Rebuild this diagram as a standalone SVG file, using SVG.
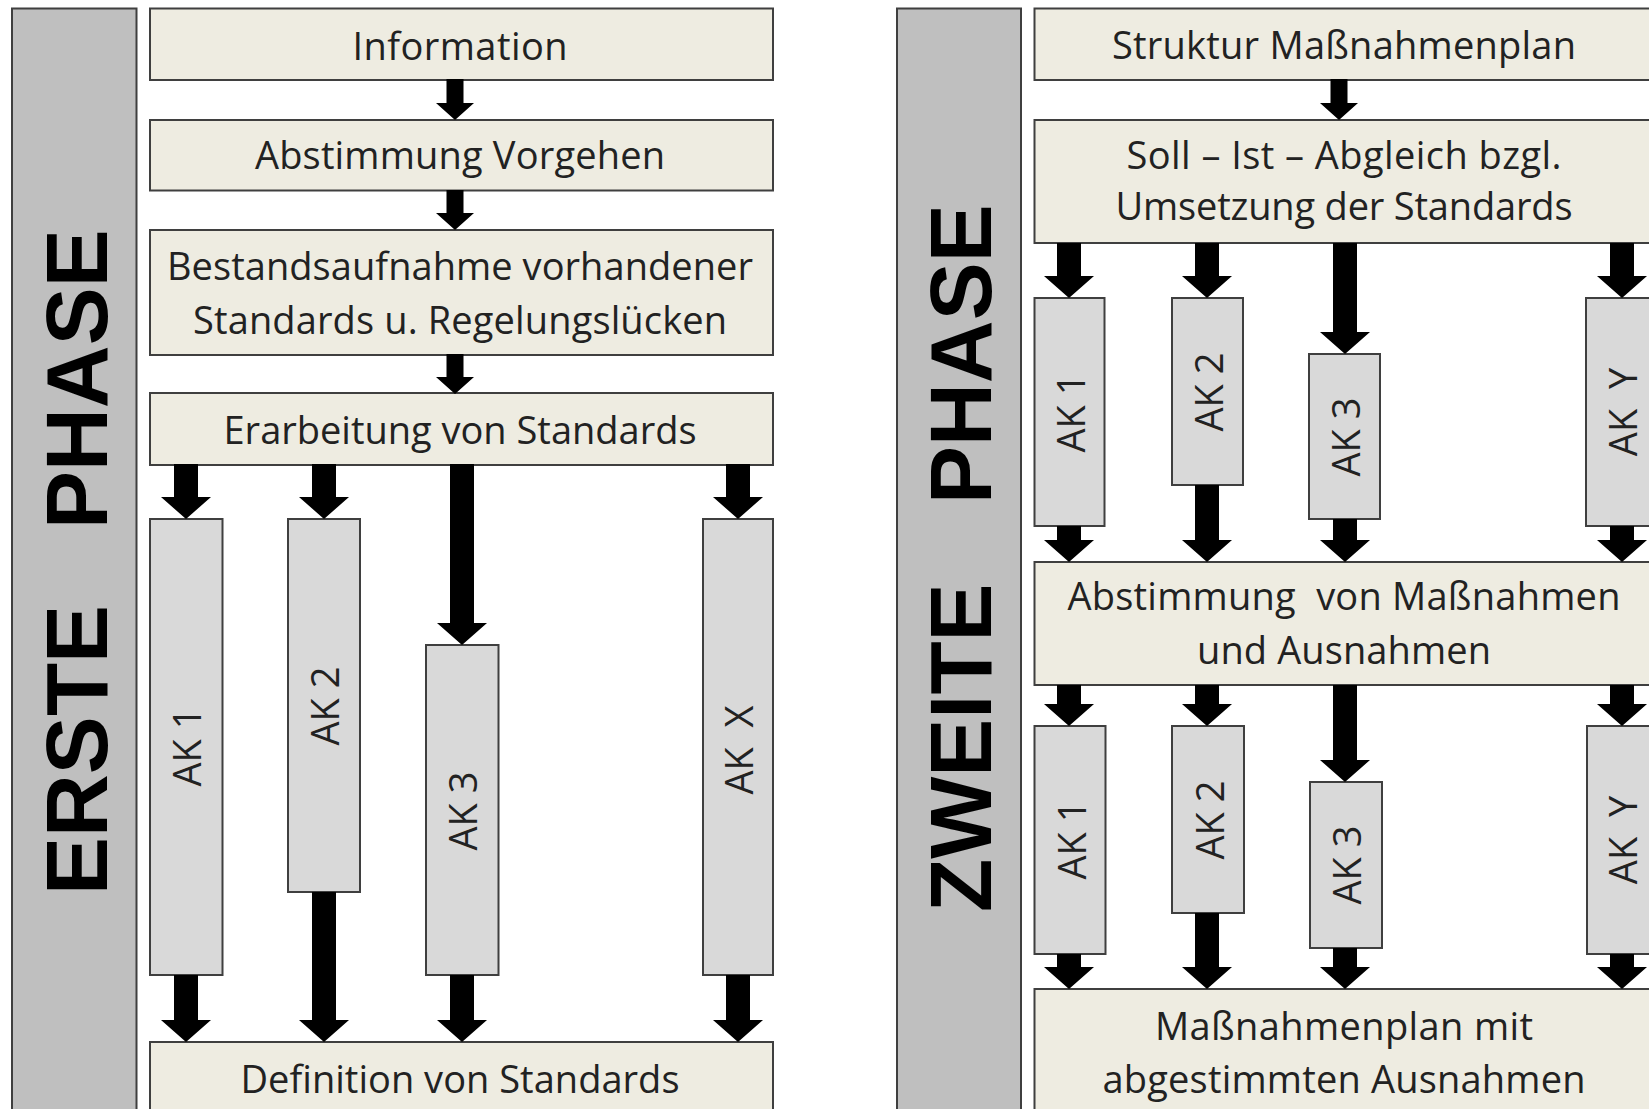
<svg xmlns="http://www.w3.org/2000/svg" width="1649" height="1109" viewBox="0 0 1649 1109">
<style>
  .bar { fill: #bfbfbf; stroke: #3f3f3f; stroke-width: 2; }
  .box { fill: #eeece1; stroke: #3f3f3f; stroke-width: 2; }
  .ak { fill: #d9d9d9; stroke: #3f3f3f; stroke-width: 2; }
  .lbl { font-family: "Open Sans", "Liberation Sans", sans-serif; font-size: 38px; fill: #222222; text-anchor: middle; white-space: pre; }
  .aklbl { font-family: "Open Sans", "Liberation Sans", sans-serif; font-size: 38px; fill: #222222; text-anchor: middle; white-space: pre; }
  .phase { font-family: "Liberation Sans", Arial, sans-serif; font-size: 87px; font-weight: bold; fill: #000; }
  .arr { fill: #000; }
</style>
<rect width="1649" height="1109" fill="#ffffff"/>

<!-- LEFT PANEL -->
<g id="phase1-bar">
  <rect class="bar" x="12" y="8.5" width="124.5" height="1120"/>
  <text class="phase" transform="rotate(-90)" y="107"><tspan x="-895">ERSTE</tspan><tspan x="-529">PHASE</tspan></text>
</g>
<g id="p1-information">
  <rect class="box" x="150" y="8.5" width="623" height="71.5"/>
  <text class="lbl" x="460" y="60" textLength="215">Information</text>
</g>
<g id="p1-abstimmung">
  <rect class="box" x="150" y="120" width="623" height="70.5"/>
  <text class="lbl" x="460" y="169" textLength="410">Abstimmung Vorgehen</text>
</g>
<g id="p1-bestand">
  <rect class="box" x="150" y="230" width="623" height="125"/>
  <text class="lbl" x="460" y="280" textLength="586">Bestandsaufnahme vorhandener</text>
  <text class="lbl" x="460" y="334" textLength="534">Standards u. Regelungslücken</text>
</g>
<g id="p1-erarbeitung">
  <rect class="box" x="150" y="393" width="623" height="72"/>
  <text class="lbl" x="460" y="444" textLength="473">Erarbeitung von Standards</text>
</g>
<g id="p1-ak1">
  <rect class="ak" x="150" y="519" width="72.5" height="456"/>
  <text class="aklbl" transform="rotate(-90)" x="-747" y="201">AK 1</text>
</g>
<g id="p1-ak2">
  <rect class="ak" x="288" y="519" width="72" height="373"/>
  <text class="aklbl" transform="rotate(-90)" x="-706" y="339">AK 2</text>
</g>
<g id="p1-ak3">
  <rect class="ak" x="426" y="645" width="72.5" height="330"/>
  <text class="aklbl" transform="rotate(-90)" x="-811" y="477">AK 3</text>
</g>
<g id="p1-akx">
  <rect class="ak" x="703" y="519" width="70" height="456"/>
  <text class="aklbl" transform="rotate(-90)" x="-750" y="753">AK  X</text>
</g>
<g id="p1-definition">
  <rect class="box" x="150" y="1042" width="623" height="100"/>
  <text class="lbl" x="460" y="1093" textLength="439">Definition von Standards</text>
</g>

<!-- RIGHT PANEL -->
<g id="phase2-bar">
  <rect class="bar" x="897" y="8.5" width="124" height="1120"/>
  <text class="phase" transform="rotate(-90)" y="991"><tspan x="-912">ZWEITE</tspan><tspan x="-504">PHASE</tspan></text>
</g>
<g id="p2-struktur">
  <rect class="box" x="1034.5" y="8.5" width="622" height="71.5"/>
  <text class="lbl" x="1344" y="59" textLength="464">Struktur Maßnahmenplan</text>
</g>
<g id="p2-soll-ist">
  <rect class="box" x="1034.5" y="120" width="622" height="123"/>
  <text class="lbl" x="1344" y="169" textLength="435">Soll – Ist – Abgleich bzgl.</text>
  <text class="lbl" x="1344" y="220" textLength="457">Umsetzung der Standards</text>
</g>
<g id="p2-ak1a">
  <rect class="ak" x="1034.5" y="298" width="70" height="228"/>
  <text class="aklbl" transform="rotate(-90)" x="-413" y="1085">AK 1</text>
</g>
<g id="p2-ak2a">
  <rect class="ak" x="1172" y="298" width="71" height="187"/>
  <text class="aklbl" transform="rotate(-90)" x="-392" y="1223">AK 2</text>
</g>
<g id="p2-ak3a">
  <rect class="ak" x="1309" y="354" width="71" height="165"/>
  <text class="aklbl" transform="rotate(-90)" x="-437" y="1360">AK 3</text>
</g>
<g id="p2-akya">
  <rect class="ak" x="1586" y="298" width="70" height="228"/>
  <text class="aklbl" transform="rotate(-90)" x="-412" y="1637">AK  Y</text>
</g>
<g id="p2-abstimmung">
  <rect class="box" x="1034.5" y="562" width="622" height="123"/>
  <text class="lbl" x="1344" y="610" textLength="553">Abstimmung  von Maßnahmen</text>
  <text class="lbl" x="1344" y="664" textLength="294">und Ausnahmen</text>
</g>
<g id="p2-ak1b">
  <rect class="ak" x="1034.5" y="726" width="71" height="228"/>
  <text class="aklbl" transform="rotate(-90)" x="-840" y="1086">AK 1</text>
</g>
<g id="p2-ak2b">
  <rect class="ak" x="1172" y="726" width="72" height="187"/>
  <text class="aklbl" transform="rotate(-90)" x="-820" y="1224">AK 2</text>
</g>
<g id="p2-ak3b">
  <rect class="ak" x="1310" y="782" width="72" height="166"/>
  <text class="aklbl" transform="rotate(-90)" x="-865" y="1361">AK 3</text>
</g>
<g id="p2-akyb">
  <rect class="ak" x="1587" y="726" width="70" height="228"/>
  <text class="aklbl" transform="rotate(-90)" x="-840" y="1637">AK  Y</text>
</g>
<g id="p2-massnahmenplan">
  <rect class="box" x="1034.5" y="989" width="622" height="140"/>
  <text class="lbl" x="1344" y="1040" textLength="378">Maßnahmenplan mit</text>
  <text class="lbl" x="1344" y="1093" textLength="483">abgestimmten Ausnahmen</text>
</g>

<!-- CONNECTORS -->
<g id="connectors" class="arr">
  <!-- left main flow -->
  <path d="M446.5,79 H463.5 V103 H474 L455,120 L436,103 H446.5 Z"/>
  <path d="M446.5,190 H463.5 V213 H474 L455,230 L436,213 H446.5 Z"/>
  <path d="M446.5,354 H463.5 V377 H474 L455,394 L436,377 H446.5 Z"/>
  <!-- left: Erarbeitung to AKs -->
  <path d="M174,464 H198 V497 H211 L186,519 L161,497 H174 Z"/>
  <path d="M312,464 H336 V497 H349 L324,519 L299,497 H312 Z"/>
  <path d="M450,464 H474 V623 H487 L462,645 L437,623 H450 Z"/>
  <path d="M726,464 H750 V497 H763 L738,519 L713,497 H726 Z"/>
  <!-- left: AKs to Definition -->
  <path d="M174,975 H198 V1020 H211 L186,1042 L161,1020 H174 Z"/>
  <path d="M312,892 H336 V1020 H349 L324,1042 L299,1020 H312 Z"/>
  <path d="M450,975 H474 V1020 H487 L462,1042 L437,1020 H450 Z"/>
  <path d="M726,975 H750 V1020 H763 L738,1042 L713,1020 H726 Z"/>

  <!-- right main flow -->
  <path d="M1330.5,79 H1347.5 V103 H1358 L1339,120 L1320,103 H1330.5 Z"/>
  <!-- right: Soll-Ist to AK row 1 -->
  <path d="M1057,243 H1081 V276 H1094 L1069,298 L1044,276 H1057 Z"/>
  <path d="M1195,243 H1219 V276 H1232 L1207,298 L1182,276 H1195 Z"/>
  <path d="M1333,243 H1357 V332 H1370 L1345,354 L1320,332 H1333 Z"/>
  <path d="M1610,243 H1634 V276 H1647 L1622,298 L1597,276 H1610 Z"/>
  <!-- right: AK row 1 to Abstimmung -->
  <path d="M1057,526 H1081 V540 H1094 L1069,562 L1044,540 H1057 Z"/>
  <path d="M1195,485 H1219 V540 H1232 L1207,562 L1182,540 H1195 Z"/>
  <path d="M1333,519 H1357 V540 H1370 L1345,562 L1320,540 H1333 Z"/>
  <path d="M1610,526 H1634 V540 H1647 L1622,562 L1597,540 H1610 Z"/>
  <!-- right: Abstimmung to AK row 2 -->
  <path d="M1057,685 H1081 V704 H1094 L1069,726 L1044,704 H1057 Z"/>
  <path d="M1195,685 H1219 V704 H1232 L1207,726 L1182,704 H1195 Z"/>
  <path d="M1333,685 H1357 V760 H1370 L1345,782 L1320,760 H1333 Z"/>
  <path d="M1610,685 H1634 V704 H1647 L1622,726 L1597,704 H1610 Z"/>
  <!-- right: AK row 2 to Massnahmenplan -->
  <path d="M1057,954 H1081 V967 H1094 L1069,989 L1044,967 H1057 Z"/>
  <path d="M1195,913 H1219 V967 H1232 L1207,989 L1182,967 H1195 Z"/>
  <path d="M1333,948 H1357 V967 H1370 L1345,989 L1320,967 H1333 Z"/>
  <path d="M1610,954 H1634 V967 H1647 L1622,989 L1597,967 H1610 Z"/>
</g>
</svg>
